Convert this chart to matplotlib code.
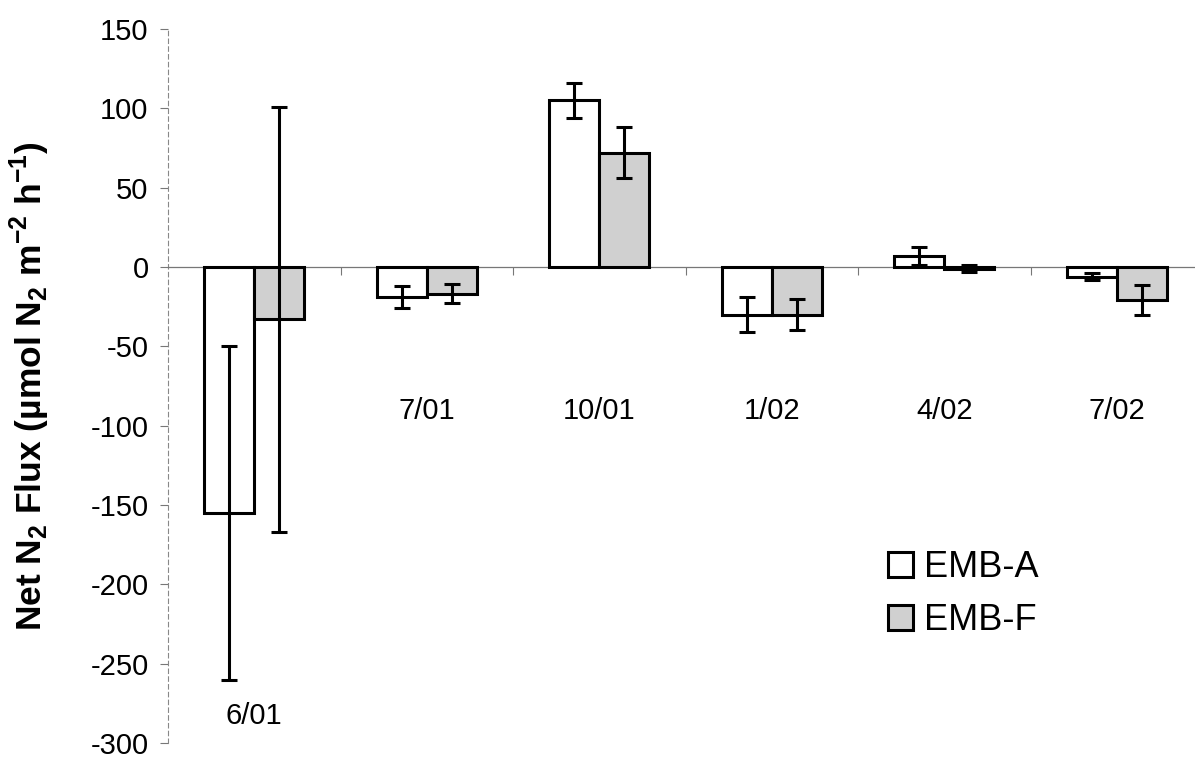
import numpy as np
import matplotlib
matplotlib.use('Agg')
import matplotlib.pyplot as plt

# sampling dates and net N2 flux (umol N2 m-2 h-1), mean and error
dates = ['6/01', '7/01', '10/01', '1/02', '4/02', '7/02']
emb_a = [-155, -19, 105, -30, 7, -6]
emb_a_err = [105, 7, 11, 11, 5.5, 2]
emb_f = [-33, -17, 72, -30, -1, -21]
emb_f_err = [134, 6, 16, 10, 2, 9.5]

# where each date label sits on the y scale
label_y = [-283, -91, -91, -91, -91, -91]

plt.rcParams['font.family'] = ['Liberation Sans', 'DejaVu Sans']
plt.rcParams['mathtext.fontset'] = 'custom'
plt.rcParams['mathtext.rm'] = 'Liberation Sans'
plt.rcParams['mathtext.bf'] = 'Liberation Sans:bold'
plt.rcParams['axes.unicode_minus'] = False


def plot_flux():
    '''
    Bar chart of net N2 flux for the two sites, with error bars
    '''
    fig = plt.figure(figsize=(11.95, 7.6), dpi=100)
    ax = fig.add_axes([168 / 1195, 17 / 760, 1035 / 1195, 714 / 760])

    x = np.arange(len(dates))
    width = 0.29
    err_style = dict(fmt='none', ecolor='black', elinewidth=2.2, capsize=5.5, capthick=2.2, zorder=4)

    #draw the bars for both sites
    ax.bar(x - width / 2, emb_a, width, color='white', edgecolor='black', linewidth=2.2, label='EMB-A', zorder=3)
    ax.bar(x + width / 2, emb_f, width, color='#d0d0d0', edgecolor='black', linewidth=2.2, label='EMB-F', zorder=3)
    ax.errorbar(x - width / 2, emb_a, yerr=emb_a_err, **err_style)
    ax.errorbar(x + width / 2, emb_f, yerr=emb_f_err, **err_style)

    #date labels placed under each group
    for i, name in enumerate(dates):
        ax.text(i, label_y[i], name, ha='center', va='center', fontsize=21)

    ax.set_xlim(-0.5, len(dates) - 0.5)
    ax.set_ylim(-300, 150)
    ax.set_yticks(np.arange(-300, 151, 50))
    ax.tick_params(axis='y', labelsize=21, length=6, width=0.8, color='#777777', pad=8)

    #category axis drawn along zero with boundary ticks
    ax.spines['bottom'].set_position(('data', 0))
    ax.spines['bottom'].set_color('#777777')
    ax.spines['bottom'].set_linewidth(0.9)
    ax.set_xticks(np.arange(0.5, len(dates) - 0.5, 1))
    ax.tick_params(axis='x', labelbottom=False, length=6, width=0.8, color='#777777', direction='out')

    ax.spines['left'].set_linestyle((0, (4, 3)))
    ax.spines['left'].set_color('#888888')
    ax.spines['left'].set_linewidth(0.8)
    ax.spines['top'].set_visible(False)
    ax.spines['right'].set_visible(False)

    ax.set_ylabel(r'Net N$_\mathbf{2}$ Flux (µmol N$_\mathbf{2}$ m$^\mathbf{-2}$ h$^\mathbf{-1}$)',
                  fontsize=25.5, fontweight='bold')
    ax.yaxis.set_label_coords(-0.112, 0.5)

    ax.legend(loc='upper left', bbox_to_anchor=(888 / 1195, 1 - 550 / 760), bbox_transform=fig.transFigure,
              frameon=False, fontsize=26, handlelength=0.7, handleheight=0.7, handletextpad=0.3,
              labelspacing=0.5, borderpad=0, borderaxespad=0)

    fig.savefig('out.png', dpi=100)


if __name__ == '__main__':
    plot_flux()
